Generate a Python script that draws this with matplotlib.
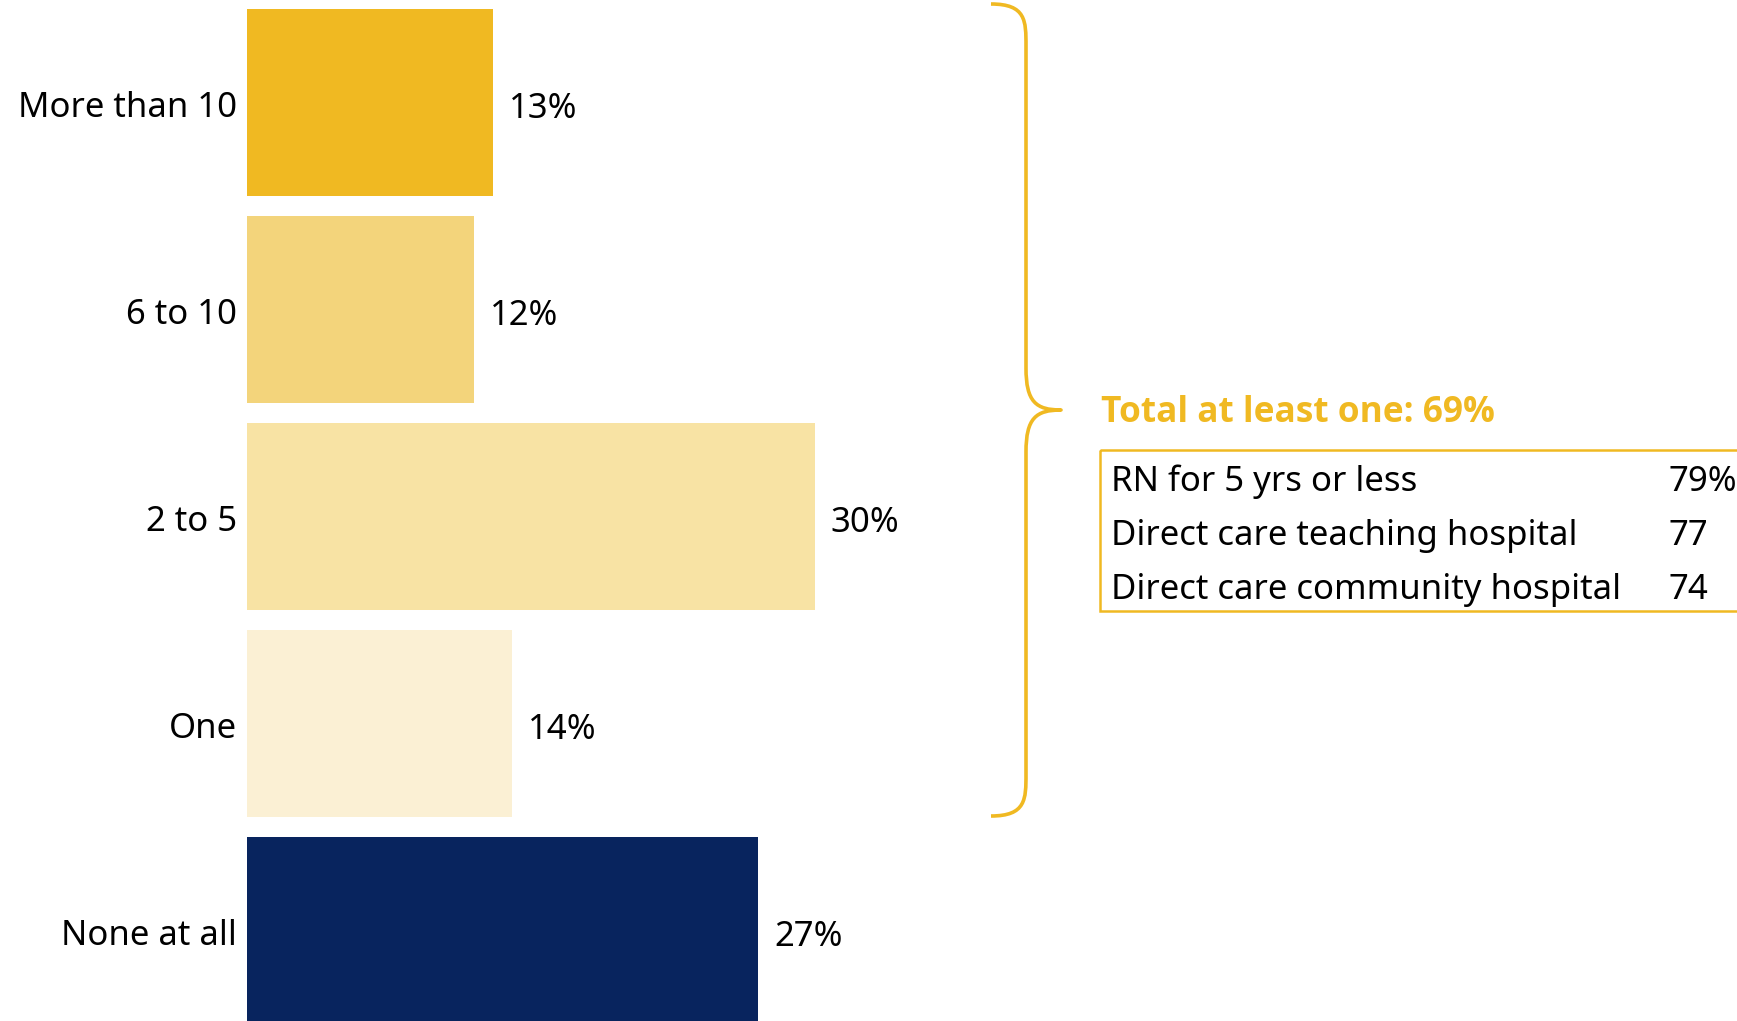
import matplotlib
matplotlib.use("Agg")
import matplotlib.pyplot as plt
from matplotlib.path import Path
from matplotlib.patches import PathPatch, Rectangle

plt.rcParams['font.family'] = ['Noto Sans', 'DejaVu Sans']

# donnees
categories = ["More than 10", "6 to 10", "2 to 5", "One", "None at all"]
valeurs = [13, 12, 30, 14, 27]
couleurs = ["#F0B922", "#F3D47B", "#F8E3A4", "#FBF0D4", "#08245E"]

total_titre = "Total at least one: 69%"
groupes = ["RN for 5 yrs or less", "Direct care teaching hospital", "Direct care community hospital"]
groupes_val = ["79%", "77", "74"]

OR = "#F0B922"
W, H = 1737, 1021
FS = 25

fig = plt.figure(figsize=(W / 100, H / 100), dpi=100)

# axe des barres : x en %, y en rang de categorie
ax = fig.add_axes([0, 0, 1, 1])
x0 = 247.0      # pixel de l'origine
px_pct = 18.93  # pixels par point de %
pas = 207.0     # pixels entre deux barres
y0 = 102.5      # centre de la premiere barre
ax.set_xlim(-x0 / px_pct, (W - x0) / px_pct)
ax.set_ylim((H - y0) / pas, -y0 / pas)
ax.axis('off')

pos = list(range(len(categories)))
ax.barh(pos, valeurs, height=0.905, color=couleurs, edgecolor='none')
for i, (c, v) in enumerate(zip(categories, valeurs)):
    ax.text(-10 / px_pct, i + 0.025, c, ha='right', va='center', fontsize=FS, color='black')
    ax.text(v + 16 / px_pct, i + 0.03, f"{v}%", ha='left', va='center', fontsize=FS, color='black')

# calque en pixels pour l'accolade et l'encadre
ov = fig.add_axes([0, 0, 1, 1], facecolor='none')
ov.set_xlim(0, W)
ov.set_ylim(H, 0)
ov.axis('off')

xg, xm, xd = 991, 1026, 1061
yh, yt, yb = 4, 410, 816
r = 42
verts = [
    (xg, yh),
    (xm, yh), (xm, yh + r * 0.4), (xm, yh + r),
    (xm, yt - r),
    (xm, yt - 8), (xd - 25, yt), (xd, yt),
    (xd - 25, yt), (xm, yt + 8), (xm, yt + r),
    (xm, yb - r),
    (xm, yb - r * 0.4), (xm, yb), (xg, yb),
]
codes = [Path.MOVETO,
         Path.CURVE4, Path.CURVE4, Path.CURVE4,
         Path.LINETO,
         Path.CURVE4, Path.CURVE4, Path.CURVE4,
         Path.CURVE4, Path.CURVE4, Path.CURVE4,
         Path.LINETO,
         Path.CURVE4, Path.CURVE4, Path.CURVE4]
ov.add_patch(PathPatch(Path(verts, codes), facecolor='none', edgecolor=OR, lw=2.6,
                       capstyle='butt', joinstyle='round'))

ov.text(1101, 413, total_titre, ha='left', va='center', fontsize=25.4,
        fontweight='bold', family=['Open Sans', 'DejaVu Sans'], color=OR)

ov.add_patch(Rectangle((1100, 450), 700, 161, facecolor='none', edgecolor=OR, lw=1.8))
for k, (g, gv) in enumerate(zip(groupes, groupes_val)):
    yy = 482 + k * 54
    ov.text(1111, yy, g, ha='left', va='center', fontsize=FS, color='black')
    ov.text(1668, yy, gv, ha='left', va='center', fontsize=FS, color='black')

fig.savefig("out.png", dpi=100)
